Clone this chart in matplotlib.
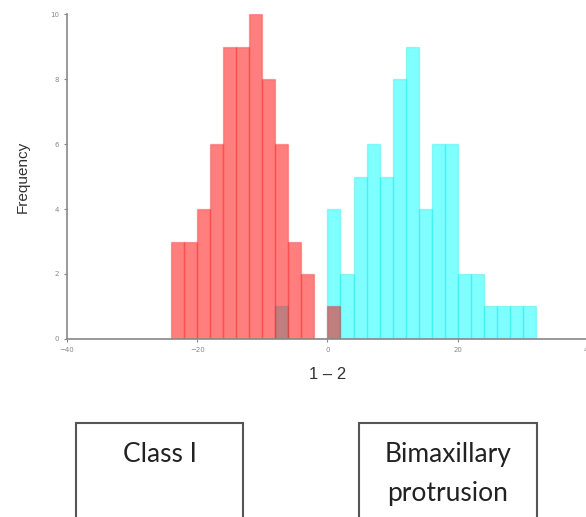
import matplotlib.pyplot as plt
from matplotlib.patches import Rectangle
import numpy as np

# histogram counts, bins of width 2
red_edges = np.arange(-24, 4, 2)          # -24 .. 2
red_counts = [3, 3, 4, 6, 9, 9, 10, 8, 6, 3, 2, 0, 1]

cyan_edges = np.arange(-8, 34, 2)         # -8 .. 32
cyan_counts = [1, 0, 0, 0, 4, 2, 5, 6, 5, 8, 9, 4, 6, 6, 2, 2, 1, 1, 1, 1]

x_ticks = [-40, -20, 0, 20, 40]
y_ticks = [0, 2, 4, 6, 8, 10]
box_labels = [["Class I"], ["Bimaxillary", "protrusion"]]

fig = plt.figure(figsize=(5.86, 5.17), dpi=100)
ax = fig.add_axes([0.1143, 0.3443, 0.889, 0.6286])

def centers(edges):
    return (edges[:-1] + edges[1:]) / 2

ax.hist(centers(cyan_edges), bins=cyan_edges, weights=cyan_counts,
        color=(0, 1, 1, 0.5), edgecolor=(0, 0.9, 0.9, 0.3), linewidth=1)
ax.hist(centers(red_edges), bins=red_edges, weights=red_counts,
        color=(1, 0, 0, 0.5), edgecolor=(0.95, 0, 0, 0.25), linewidth=1)

ax.set_xlim(-40, 40)
ax.set_ylim(0, 10)
ax.set_xticks(x_ticks)
ax.set_yticks(y_ticks)
ax.tick_params(labelsize=5, colors="#888888", length=2, width=0.8)
for s in ["top", "right"]:
    ax.spines[s].set_visible(False)
for s in ["left", "bottom"]:
    ax.spines[s].set_color("#888888")
    ax.spines[s].set_linewidth(1.2)

ax.set_xlabel("1 \u2013 2", fontsize=12, family="Liberation Sans",
              color="#333333", labelpad=10)
ax.set_ylabel("Frequency", fontsize=11, family="Liberation Sans",
              color="#333333", labelpad=15)

# the two boxes below the chart
box_x = [(76, 243), (359, 537)]
W, H = 586, 517
for (x0, x1), lines in zip(box_x, box_labels):
    fig.add_artist(Rectangle((x0 / W, -0.05), (x1 - x0) / W, 0.05 + (1 - 423 / H),
                             transform=fig.transFigure, fill=False,
                             edgecolor="#555555", linewidth=1.5))
    for i, line in enumerate(lines):
        fig.text((x0 + x1) / 2 / W, 1 - (462 + 38.5 * i) / H, line,
                 ha="center", va="baseline", fontsize=19, family="Lato",
                 color="#222222")

fig.savefig("out.png", dpi=100)
